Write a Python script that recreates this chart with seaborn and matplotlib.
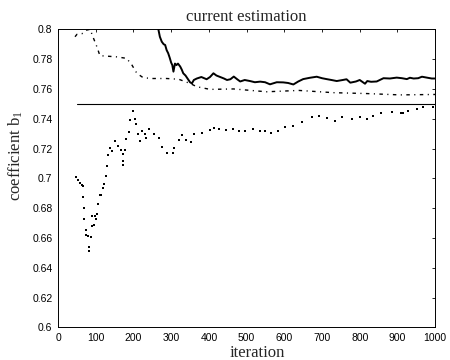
import matplotlib
matplotlib.use("Agg")
import matplotlib.pyplot as plt
import seaborn as sns

# --- data ------------------------------------------------------------------
# thick solid estimate
solid_iter = [266, 270, 275, 280, 284, 288, 292, 296, 300, 303, 306, 310, 314, 318, 324,
              328, 332, 338, 346, 350, 355, 360, 368, 380, 394, 403, 412, 420, 430, 440,
              448, 457, 466, 475, 483, 495, 509, 522, 536, 549, 562, 580, 597, 610, 624,
              637, 650, 668, 686, 700, 712, 725, 739, 755, 765, 775, 790, 800, 814, 820,
              830, 845, 863, 880, 898, 912, 925, 933, 943, 955, 965, 980, 991, 1000]
solid_val = [0.800, 0.795, 0.7917, 0.790, 0.7895, 0.786, 0.784, 0.781, 0.7776, 0.776, 0.7716,
             0.777, 0.776, 0.777, 0.775, 0.773, 0.7705, 0.769, 0.766, 0.7645, 0.7637, 0.766,
             0.767, 0.768, 0.7665, 0.768, 0.7705, 0.769, 0.768, 0.767, 0.766, 0.7665, 0.7683,
             0.7665, 0.765, 0.766, 0.7653, 0.7645, 0.7649, 0.7645, 0.7631, 0.7645, 0.7644,
             0.764, 0.763, 0.765, 0.7666, 0.7675, 0.7682, 0.7672, 0.7666, 0.766, 0.7653,
             0.766, 0.7665, 0.7642, 0.765, 0.766, 0.7635, 0.7653, 0.7648, 0.765, 0.7672,
             0.767, 0.7676, 0.7672, 0.7666, 0.7675, 0.767, 0.7672, 0.7682, 0.7675, 0.767, 0.767]

# dash-dot estimate
dashdot_iter = [45, 50, 63, 76, 85, 94, 103, 111, 129, 156, 182, 196, 209, 226, 250, 288,
                320, 350, 368, 403, 465, 553, 639, 730, 819, 907, 1000]
dashdot_val = [0.795, 0.7966, 0.797, 0.7995, 0.800, 0.794, 0.7883, 0.7823, 0.782, 0.7815,
               0.7805, 0.776, 0.7705, 0.7675, 0.767, 0.767, 0.7665, 0.7637, 0.7615, 0.7597,
               0.760, 0.7581, 0.759, 0.7575, 0.7569, 0.756, 0.7563]

# dotted estimate
dot_iter = [48, 53, 58, 64, 67, 67, 70, 70, 73, 74, 79, 82, 82, 87, 89, 91, 96, 99, 100, 103,
            105, 110, 115, 118, 121, 126, 131, 133, 137, 144, 151, 159, 166, 171, 173, 173,
            177, 179, 188, 191, 200, 205, 208, 211, 218, 223, 231, 234, 240, 255, 269, 276,
            289, 304, 308, 321, 329, 338, 352, 361, 381, 403, 414, 428, 446, 463, 480, 496,
            518, 536, 549, 566, 583, 602, 624, 646, 673, 692, 712, 735, 752, 779, 801, 819,
            836, 856, 885, 909, 916, 927, 951, 969, 995]
dot_val = [0.7011, 0.699, 0.6967, 0.6958, 0.6947, 0.6873, 0.680, 0.6729, 0.6656, 0.6618,
           0.6611, 0.654, 0.651, 0.661, 0.6684, 0.6747, 0.669, 0.6751, 0.673, 0.676, 0.683,
           0.689, 0.6889, 0.6936, 0.696, 0.7018, 0.708, 0.7156, 0.7202, 0.7182, 0.7249, 0.722,
           0.7191, 0.7164, 0.7118, 0.7093, 0.719, 0.7262, 0.7313, 0.7389, 0.745, 0.740, 0.7367,
           0.730, 0.7249, 0.7318, 0.730, 0.727, 0.7333, 0.7296, 0.7273, 0.7209, 0.7169, 0.7169,
           0.7207, 0.7256, 0.7289, 0.726, 0.7242, 0.7298, 0.7302, 0.7322, 0.734, 0.7333,
           0.7322, 0.7329, 0.7315, 0.732, 0.7329, 0.732, 0.7315, 0.7306, 0.732, 0.7342,
           0.7349, 0.738, 0.7414, 0.742, 0.7405, 0.7383, 0.7409, 0.740, 0.7409, 0.7398,
           0.742, 0.744, 0.7445, 0.7436, 0.744, 0.7454, 0.7463, 0.7476, 0.748]

# true value
true_iter = [50, 1000]
true_val = [0.75, 0.75]

x_ticks = [0, 100, 200, 300, 400, 500, 600, 700, 800, 900, 1000]
y_ticks = [0.6, 0.62, 0.64, 0.66, 0.68, 0.7, 0.72, 0.74, 0.76, 0.78, 0.8]
y_tick_labels = ["0.6", "0.62", "0.64", "0.66", "0.68", "0.7", "0.72", "0.74", "0.76", "0.78", "0.8"]

# --- plot ---------------------------------------------------------------------
sns.set_style("white")
plt.rcParams['font.family'] = ['Liberation Sans', 'DejaVu Sans']
plt.rcParams['mathtext.fontset'] = 'custom'
plt.rcParams['mathtext.rm'] = 'Liberation Serif'
plt.rcParams['mathtext.it'] = 'Liberation Serif'

fig = plt.figure(figsize=(4.5, 3.6), dpi=100)
ax = fig.add_axes([0.129, 0.0903, 0.838, 0.8283])

sns.lineplot(x=true_iter, y=true_val, ax=ax, color='black', lw=0.8)
sns.lineplot(x=dashdot_iter, y=dashdot_val, ax=ax, color='black', lw=1.0,
             linestyle=(0, (2.5, 3.2, 0.8, 3.2)))
sns.lineplot(x=solid_iter, y=solid_val, ax=ax, color='black', lw=1.4)
sns.scatterplot(x=dot_iter, y=dot_val, ax=ax, color='black', marker='s', s=4,
                linewidth=0)

ax.set_xlim(0, 1000)
ax.set_ylim(0.6, 0.8)
ax.set_xticks(x_ticks)
ax.set_yticks(y_ticks)
ax.set_yticklabels(y_tick_labels)
ax.tick_params(direction='in', length=2.5, width=0.6, labelsize=7.5, pad=4,
               top=True, right=True, colors='black')
for sp in ax.spines.values():
    sp.set_color('black')
    sp.set_linewidth(0.7)

serif = ['Liberation Serif', 'DejaVu Serif']
ax.set_title("current estimation", family=serif, fontsize=12, pad=6)
ax.set_xlabel("iteration", family=serif, fontsize=12)
ax.set_ylabel("coefficient b$_\\mathrm{1}$", family=serif, fontsize=12)
ax.xaxis.set_label_coords(0.528, -0.058)
ax.yaxis.set_label_coords(-0.0875, 0.575)

plt.savefig('out.png', dpi=100)
